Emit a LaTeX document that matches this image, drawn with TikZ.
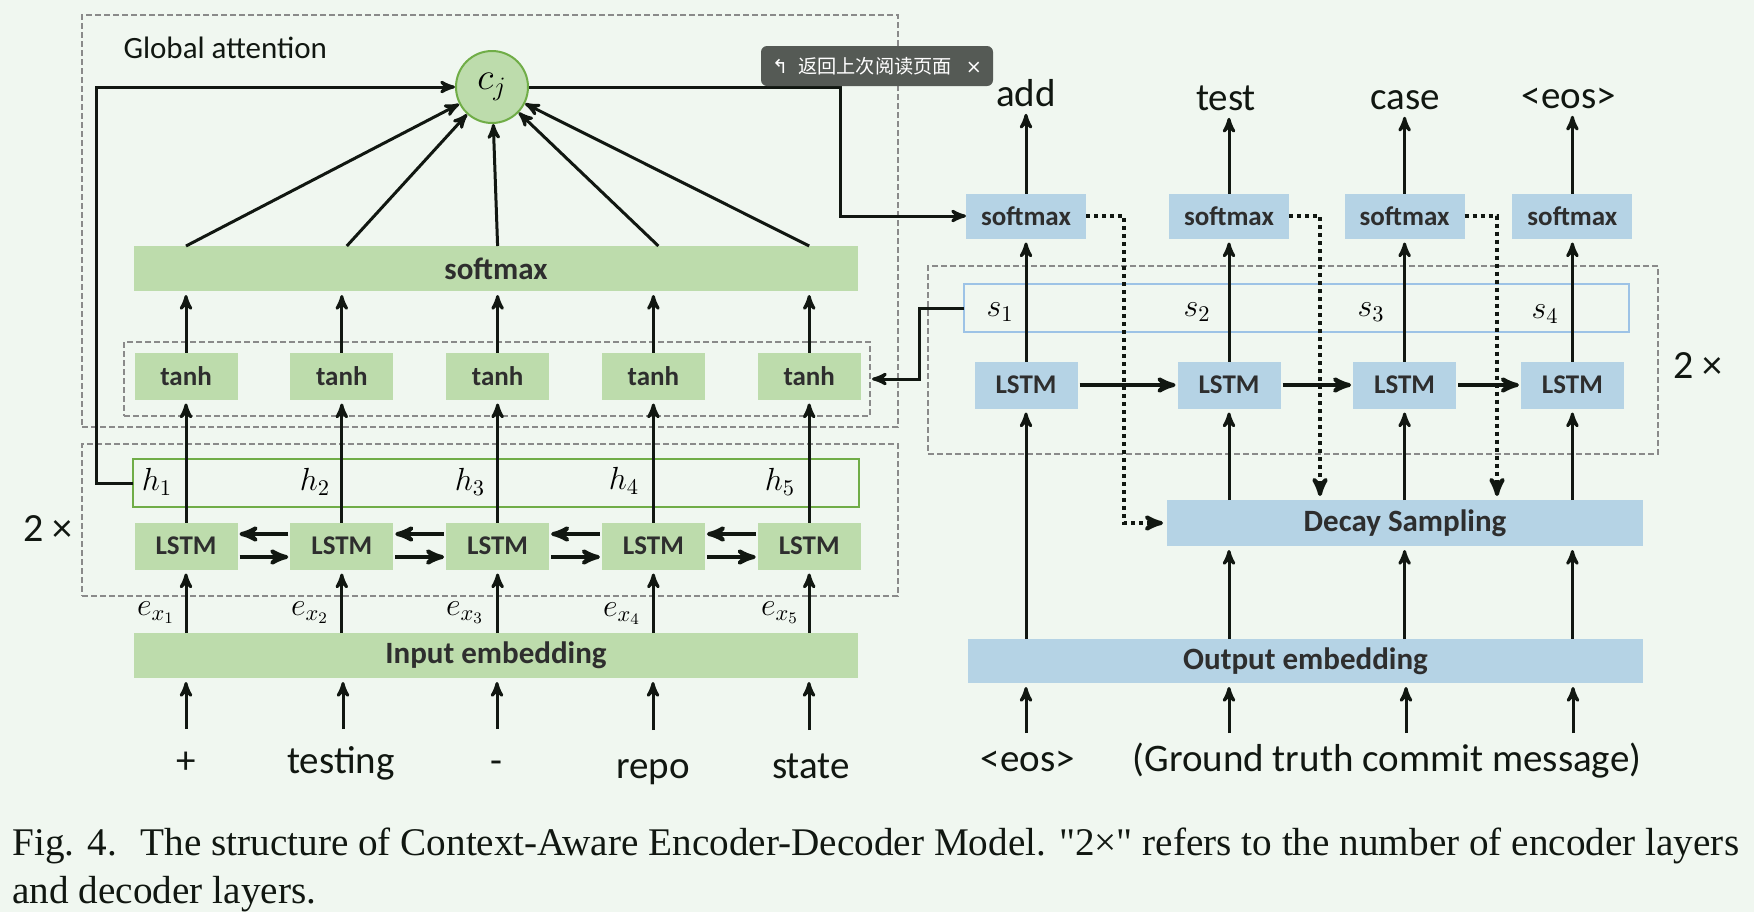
\RequirePackage{fix-cm}
\documentclass[tikz,border=0pt]{standalone}
\usepackage{fontspec}
\newfontfamily\labfont{Carlito}
\newfontfamily\capfont{Liberation Serif}
\newfontfamily\cjkfont{Noto Sans CJK SC}
\newfontfamily\symfont{DejaVu Sans}
\usepackage{amsmath}
\usepackage{xcolor}
\usetikzlibrary{arrows,shapes,positioning}
\definecolor{paper}{HTML}{F0F7F0}
\definecolor{encfill}{HTML}{BDDCAC}
\definecolor{encline}{HTML}{70AD47}
\definecolor{decfill}{HTML}{B5D3E5}
\definecolor{decline}{HTML}{9DC3E6}
\definecolor{boxgray}{HTML}{8A8A8A}
\definecolor{ink}{HTML}{111711}
\definecolor{labtext}{HTML}{2E2E2E}
\definecolor{hintgray}{HTML}{555A55}
\tikzset{
  every picture/.style = {
    line width = 1.5pt,
    >=stealth',
    x = 0.5pt,
    y = -0.5pt,
    draw = ink
  }
  , % dashed frames round the layers
  group-box/.style = {
    rectangle,
    draw = boxgray,
    line width = 0.75pt,
    dash pattern = on 3pt off 1.5pt,
    inner sep = 0pt,
    outer sep = 0pt
  }
  , % green encoder cells
  enc-box/.style = {
    rectangle,
    fill = encfill,
    text = labtext,
    font = \labfont\bfseries\fontsize{13.5}{15}\selectfont,
    minimum width = 51.5pt,
    minimum height = 23.5pt,
    inner sep = 0pt,
    outer sep = 0pt
  }
  ,
  enc-bar/.style = {
    enc-box,
    minimum width = 362pt,
    minimum height = 22.5pt,
    font = \labfont\bfseries\fontsize{15.5}{18}\selectfont
  }
  , % blue decoder cells
  dec-box/.style = {
    enc-box,
    fill = decfill
  }
  ,
  dec-soft/.style = {
    dec-box,
    minimum width = 60pt,
    minimum height = 22.5pt,
    font = \labfont\bfseries\fontsize{13.5}{15}\selectfont
  }
  ,
  dec-bar/.style = {
    enc-bar,
    fill = decfill,
    minimum width = 238pt,
    minimum height = 23pt
  }
  , % hidden state strips
  state-bar/.style = {
    rectangle,
    line width = 1.1pt,
    minimum height = 24pt,
    inner sep = 0pt,
    outer sep = 0pt
  }
  ,
  ctx-node/.style = {
    circle,
    fill = encfill,
    draw = encline,
    line width = 1pt,
    minimum size = 36pt,
    inner sep = 0pt,
    font = \fontsize{19}{21}\selectfont
  }
  , % math labels
  var-label/.style = {
    inner sep = 0pt,
    font = \fontsize{16}{18}\selectfont
  }
  ,
  token/.style = {
    inner sep = 1pt,
    text = ink,
    font = \labfont\fontsize{19.5}{22}\selectfont
  }
  ,
  title-text/.style = {
    inner sep = 0pt,
    text = ink,
    font = \labfont\fontsize{15.5}{18}\selectfont
  }
  ,
  rep-text/.style = {
    inner sep = 0pt,
    text = ink,
    font = \labfont\fontsize{20}{22}\selectfont
  }
  ,
  caption-text/.style = {
    inner sep = 0pt,
    text = ink,
    font = \capfont\fontsize{19.6}{22}\selectfont
  }
  ,
  back-hint/.style = {
    rectangle,
    rounded corners = 3pt,
    fill = hintgray,
    text = white,
    minimum width = 116pt,
    minimum height = 20pt,
    inner sep = 0pt,
    font = \fontsize{9.6}{11}\selectfont
  }
  , % arrows
  feed-arrow/.style = {
    ->,
    shorten > = 2pt
  }
  ,
  side-arrow/.style = {
    ->,
    line width = 2pt,
    shorten > = 1pt,
    shorten < = 1pt
  }
  ,
  sample-link/.style = {
    ->,
    line width = 2pt,
    dash pattern = on 2pt off 2pt,
    shorten > = 2pt
  }
}
\begin{document}
\begin{tikzpicture}
  \fill [paper] (0,0) rectangle (1754,912);
  \useasboundingbox (0,0) rectangle (1754,912);

  % encoder
  \node [group-box, minimum width = 408pt, minimum height = 206pt] (attnbox) at (490,221) {};
  \node [group-box, minimum width = 408pt, minimum height = 76pt] (encbox) at (490,520) {};
  \node [group-box, minimum width = 373pt, minimum height = 37pt] (tanhbox) at (497,379) {};
  \node [title-text, anchor = base west] (attntitle) at (122,58) {Global attention};
  \node [rep-text] (encrep) at (48,529) {2 ×};

  \node [ctx-node] (cj) at (492,87) {$c_j$};
  \node [enc-bar] (attnsoft) at (496,268.5) {softmax};

  \node [enc-box] (t1) at (186,376) {tanh};
  \node [enc-box, right = 26.4pt of t1] (t2) {tanh};
  \node [enc-box, right = 26.4pt of t2] (t3) {tanh};
  \node [enc-box, right = 26.4pt of t3] (t4) {tanh};
  \node [enc-box, right = 26.4pt of t4] (t5) {tanh};

  \node [state-bar, draw = encline, minimum width = 363pt] (hbar) at (496,483) {};
  \node [var-label] (h1) at (157,482) {$h_1$};
  \node [var-label] (h2) at (315,482) {$h_2$};
  \node [var-label] (h3) at (470,482) {$h_3$};
  \node [var-label] (h4) at (624,481) {$h_4$};
  \node [var-label] (h5) at (780,482) {$h_5$};

  \node [enc-box] (l1) at (186,546) {LSTM};
  \node [enc-box, right = 26.4pt of l1] (l2) {LSTM};
  \node [enc-box, right = 26.4pt of l2] (l3) {LSTM};
  \node [enc-box, right = 26.4pt of l3] (l4) {LSTM};
  \node [enc-box, right = 26.4pt of l4] (l5) {LSTM};

  \node [var-label] (e1) at (156,613) {$e_{x_1}$};
  \node [var-label] (e2) at (310,613) {$e_{x_2}$};
  \node [var-label] (e3) at (465,613) {$e_{x_3}$};
  \node [var-label] (e4) at (622,614) {$e_{x_4}$};
  \node [var-label] (e5) at (780,613) {$e_{x_5}$};

  \node [enc-bar] (inemb) at (496,655.5) {Input embedding};
  \node [token, anchor = base] (x1) at (186,773) {+};
  \node [token, anchor = base] (x2) at (341,773) {testing};
  \node [token, anchor = base] (x3) at (496,773) {-};
  \node [token, anchor = base] (x4) at (653,778) {repo};
  \node [token, anchor = base] (x5) at (811,778) {state};

  \coordinate (x1-tail) at (186,729);
  \coordinate (x2-tail) at (343,729);
  \coordinate (x3-tail) at (497,729);
  \coordinate (x4-tail) at (653,730);
  \coordinate (x5-tail) at (809,730);
  \draw [feed-arrow] (x1-tail) -- (x1-tail |- inemb.south);
  \draw [feed-arrow] (x2-tail) -- (x2-tail |- inemb.south);
  \draw [feed-arrow] (x3-tail) -- (x3-tail |- inemb.south);
  \draw [feed-arrow] (x4-tail) -- (x4-tail |- inemb.south);
  \draw [feed-arrow] (x5-tail) -- (x5-tail |- inemb.south);

  \draw [feed-arrow] (l1 |- inemb.north) -- (l1);
  \draw [feed-arrow] (l2 |- inemb.north) -- (l2);
  \draw [feed-arrow] (l3 |- inemb.north) -- (l3);
  \draw [feed-arrow] (l4 |- inemb.north) -- (l4);
  \draw [feed-arrow] (l5 |- inemb.north) -- (l5);

  \draw [side-arrow] ([yshift = 6pt] l2.west) -- ([yshift = 6pt] l1.east);
  \draw [side-arrow] ([yshift = 6pt] l3.west) -- ([yshift = 6pt] l2.east);
  \draw [side-arrow] ([yshift = 6pt] l4.west) -- ([yshift = 6pt] l3.east);
  \draw [side-arrow] ([yshift = 6pt] l5.west) -- ([yshift = 6pt] l4.east);
  \draw [side-arrow] ([yshift = -5.5pt] l1.east) -- ([yshift = -5.5pt] l2.west);
  \draw [side-arrow] ([yshift = -5.5pt] l2.east) -- ([yshift = -5.5pt] l3.west);
  \draw [side-arrow] ([yshift = -5.5pt] l3.east) -- ([yshift = -5.5pt] l4.west);
  \draw [side-arrow] ([yshift = -5.5pt] l4.east) -- ([yshift = -5.5pt] l5.west);

  \draw [feed-arrow] (l1) -- (t1);
  \draw [feed-arrow] (l2) -- (t2);
  \draw [feed-arrow] (l3) -- (t3);
  \draw [feed-arrow] (l4) -- (t4);
  \draw [feed-arrow] (l5) -- (t5);

  \draw [feed-arrow] (t1) -- (t1 |- attnsoft.south);
  \draw [feed-arrow] (t2) -- (t2 |- attnsoft.south);
  \draw [feed-arrow] (t3) -- (t3 |- attnsoft.south);
  \draw [feed-arrow] (t4) -- (t4 |- attnsoft.south);
  \draw [feed-arrow] (t5) -- (t5 |- attnsoft.south);

  \draw [->] (t1 |- attnsoft.north) -- (cj);
  \draw [->] ([xshift = 2.5pt] t2 |- attnsoft.north) -- (cj);
  \draw [->] (t3 |- attnsoft.north) -- (cj);
  \draw [->] ([xshift = 2.5pt] t4 |- attnsoft.north) -- (cj);
  \draw [->] (t5 |- attnsoft.north) -- (cj);

  \coordinate (fb) at (96,87);
  \draw [->] (hbar.west) -| (fb) -- (cj);

  % decoder
  \node [group-box, minimum width = 365pt, minimum height = 94pt] (decbox) at (1293,360) {};
  \node [rep-text] (decrep) at (1698,366) {2 ×};
  \node [state-bar, draw = decline, minimum width = 332.5pt] (sbar) at (1296.5,308) {};
  \node [var-label] (s1) at (1000,312) {$s_1$};
  \node [var-label] (s2) at (1197,312) {$s_2$};
  \node [var-label] (s3) at (1371,312) {$s_3$};
  \node [var-label] (s4) at (1545,314) {$s_4$};

  \node [dec-box] (d1) at (1026,385) {LSTM};
  \node [dec-box, right = 50pt of d1] (d2) {LSTM};
  \node [dec-box, right = 36.3pt of d2] (d3) {LSTM};
  \node [dec-box, right = 32.4pt of d3] (d4) {LSTM};

  \node [dec-soft, above = 61.5pt of d1] (ds1) {softmax};
  \node [dec-soft, above = 61.5pt of d2] (ds2) {softmax};
  \node [dec-soft, above = 61.5pt of d3] (ds3) {softmax};
  \node [dec-soft, above = 61.5pt of d4] (ds4) {softmax};

  \node [token, anchor = base] (o1) at (1026,106) {add};
  \node [token, anchor = base] (o2) at (1226,110) {test};
  \node [token, anchor = base] (o3) at (1405,109) {case};
  \node [token, anchor = base] (o4) at (1569,108) {<eos>};

  \node [dec-bar] (decay) at (1405,523) {Decay Sampling};
  \node [dec-bar, minimum width = 337.5pt, minimum height = 22pt] (outemb) at (1305.5,661) {Output embedding};
  \node [token, anchor = base] (y0) at (1028,771) {<eos>};
  \node [token, anchor = base] (y1) at (1387,771) {(Ground truth commit message)};

  \coordinate (y1-tail) at (1026,733);
  \coordinate (y2-tail) at (1229,733);
  \coordinate (y3-tail) at (1406,733);
  \coordinate (y4-tail) at (1573,733);
  \draw [feed-arrow] (y1-tail) -- (y1-tail |- outemb.south);
  \draw [feed-arrow] (y2-tail) -- (y2-tail |- outemb.south);
  \draw [feed-arrow] (y3-tail) -- (y3-tail |- outemb.south);
  \draw [feed-arrow] (y4-tail) -- (y4-tail |- outemb.south);

  \draw [feed-arrow] (d1 |- outemb.north) -- (d1);
  \draw [feed-arrow] (d2 |- outemb.north) -- (d2 |- decay.south);
  \draw [feed-arrow] (d3 |- outemb.north) -- (d3 |- decay.south);
  \draw [feed-arrow] (d4 |- outemb.north) -- (d4 |- decay.south);
  \draw [feed-arrow] (d2 |- decay.north) -- (d2);
  \draw [feed-arrow] (d3 |- decay.north) -- (d3);
  \draw [feed-arrow] (d4 |- decay.north) -- (d4);

  \draw [side-arrow] (d1) -- (d2);
  \draw [side-arrow] (d2) -- (d3);
  \draw [side-arrow] (d3) -- (d4);

  \draw [feed-arrow] (d1) -- (ds1);
  \draw [feed-arrow] (d2) -- (ds2);
  \draw [feed-arrow] (d3) -- (ds3);
  \draw [feed-arrow] (d4) -- (ds4);

  \draw [feed-arrow] (ds1) -- (ds1 |- o1.south);
  \draw [feed-arrow] (ds2) -- (ds2 |- o2.south);
  \draw [feed-arrow] (ds3) -- (ds3 |- o3.south);
  \draw [feed-arrow] (ds4) -- (ds4 |- o4.south);

  \coordinate (k1) at (1124,523);
  \coordinate (k2) at (1320,0);
  \coordinate (k3) at (1497,0);
  \draw [sample-link] (ds1) -| (k1) -- (decay);
  \draw [sample-link] (ds2) -| (k2 |- decay.north);
  \draw [sample-link] (ds3) -| (k3 |- decay.north);

  % links between the two halves
  \coordinate (fr) at (840,87);
  \draw [->] (cj) -- (fr) |- (ds1);
  \coordinate (sk) at (919,308);
  \draw [->, shorten > = 1pt] (sbar.west) -- (sk) |- (tanhbox.east);

  \node [back-hint] (backhint) at (877,66) {{\symfont ↰}\hspace{5pt}{\cjkfont 返回上次阅读页面}\hspace{7pt}{\symfont ×}};

  % caption
  \node [caption-text, anchor = base west] (cap1) at (11,855) {Fig. 4.\hspace{0.6em}The structure of Context-Aware Encoder-Decoder Model. "2×" refers to the number of encoder layers};
  \node [caption-text, anchor = base west] (cap2) at (11,903) {and decoder layers.};
\end{tikzpicture}
\end{document}
